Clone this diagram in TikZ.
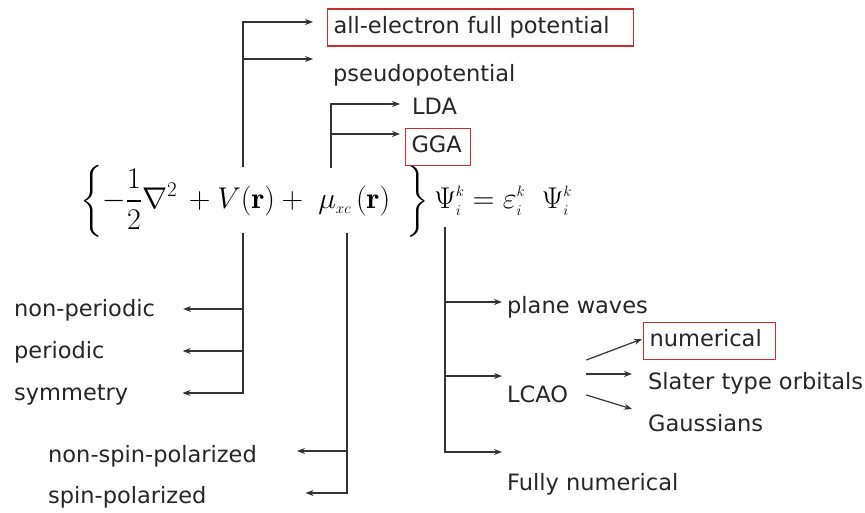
\RequirePackage{fix-cm}
\documentclass[tikz,border=0pt]{standalone}
\usepackage{amsmath,amssymb}
\usepackage{fontspec}
\newfontfamily\lblfont{DejaVu Sans}
\usepackage{tikz}
\usetikzlibrary{arrows, arrows.meta, positioning}
\definecolor{boxred}{RGB}{205,45,45}
\newcommand{\ssi}[1]{{\scriptscriptstyle #1}}

\begin{document}
\begin{tikzpicture}[x=1pt,y=-1pt,
  lbl/.style={anchor=base west,inner sep=0pt,text height=16pt,text depth=5pt,
              font=\lblfont\fontsize{22.5}{26}\selectfont,text=black!85},
  hl/.style={lbl,draw=boxred,line width=1.1pt,inner xsep=6pt,inner ysep=8pt,align=left},
  trunk/.style={line width=1.2pt,draw=black!80},
  arr/.style={trunk,-{Stealth[length=8pt,width=6pt]}}
]
  \fill[white] (0,0) rectangle (865,512);
  \useasboundingbox (0,0) rectangle (865,512);

  % Kohn-Sham equation
  \node[anchor=west,inner sep=0pt] (eq) at (80,201) {\fontsize{30}{36}\selectfont
    $\displaystyle\left\{-\frac{1}{2}\nabla^{2}\,+V(\mathbf{r})+\;\mu_{\ssi{xc}}\,(\mathbf{r})\;\;\right\}
     \Psi_{\ssi{i}}^{\ssi{k}}=\varepsilon_{\ssi{i}}^{\ssi{k}}\;\;\Psi_{\ssi{i}}^{\ssi{k}}$};
  \coordinate (tA) at (243,167);
  \coordinate (tB) at (331,168);
  \coordinate (bA) at (243,233);
  \coordinate (bB) at (347,233);
  \coordinate (bC) at (445,227);

  % potential
  \node[hl,text width=294pt] (allel) at (327,33) {all-electron full potential};
  \node[lbl] (pseudo) at (333,81) {pseudopotential};
  % exchange-correlation
  \node[lbl] (lda) at (412,114) {LDA};
  \node[hl,text width=53pt] (gga) at (405,152.5) {GGA};
  % boundary conditions
  \node[lbl] (nonper) at (14,316) {non-periodic};
  \node[lbl] (per)    at (14,358) {periodic};
  \node[lbl] (sym)    at (14,400) {symmetry};
  % spin
  \node[lbl] (nsp)  at (48,462) {non-spin-polarized};
  \node[lbl] (spin) at (48,503) {spin-polarized};
  % basis set
  \node[lbl] (plane) at (507,313) {plane waves};
  \node[lbl] (lcao)  at (507,402) {LCAO};
  \node[lbl] (fully) at (507,490) {Fully numerical};
  \node[hl,text width=120pt] (num) at (643,346.5) {numerical};
  \node[lbl] (slater) at (648,389) {Slater type orbitals};
  \node[lbl] (gauss)  at (648,431) {Gaussians};

  \draw[arr] (tA) |- ([xshift=-14pt,yshift=5.5pt]allel.west);
  \draw[arr] (tA) |- ([xshift=-20pt,yshift=16.5pt]pseudo.west);
  \draw[arr] (tB) |- ([xshift=-12pt,yshift=4.5pt]lda.west);
  \draw[arr] (tB) |- ([xshift=-5pt,yshift=13pt]gga.west);

  \draw[arr] (bA) |- ([xshift=28pt,yshift=1.5pt]nonper.east);
  \draw[arr] (bA) |- ([xshift=78pt,yshift=1.5pt]per.east);
  \draw[arr] (bA) |- ([xshift=54pt,yshift=1.5pt]sym.east);

  \draw[arr] (bB) |- ([xshift=40pt,yshift=5.5pt]nsp.east);
  \draw[arr] (bB) |- ([xshift=99pt,yshift=4.5pt]spin.east);

  \draw[arr] (bC) |- ([xshift=-5pt,yshift=5.5pt]plane.west);
  \draw[arr] (bC) |- ([xshift=-5pt,yshift=20.5pt]lcao.west);
  \draw[arr] (bC) |- ([xshift=-5pt,yshift=32.5pt]fully.west);

  \draw[arr] ([xshift=18pt,yshift=36.5pt]lcao.east) -- ([xshift=-1pt,yshift=2pt]num.west);
  \draw[arr] ([xshift=18pt,yshift=22.5pt]lcao.east) -- ([xshift=-16pt,yshift=9.5pt]slater.west);
  \draw[arr] ([xshift=18pt,yshift=1.5pt]lcao.east) -- ([xshift=-16pt,yshift=16.5pt]gauss.west);
\end{tikzpicture}
\end{document}
